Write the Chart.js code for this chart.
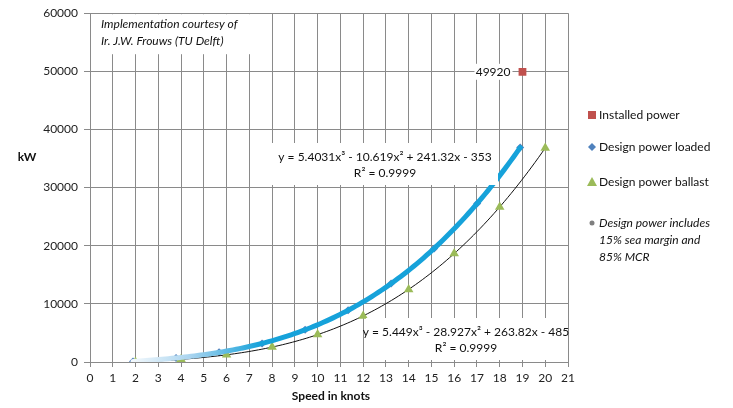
<!DOCTYPE html>
<html>
<head>
<meta charset="utf-8">
<script src="https://cdn.jsdelivr.net/npm/chart.js@4/dist/chart.umd.min.js"></script>
<style>
  html, body { margin: 0; padding: 0; background: #fff; }
  #wrap { position: relative; width: 733px; height: 408px; }
</style>
</head>
<body>
<div id="wrap"><canvas id="c" width="733" height="408"></canvas></div>
<script>
// Speed (knots) and design power (kW) for the loaded condition
const loadedSpeed = [1.89, 3.78, 5.67, 7.56, 9.45, 11.34, 13.23, 15.12, 17.01, 18.9];
const loadedPower = [100, 700, 1660, 3200, 5540, 8900, 13490, 19540, 27270, 36890];

// Speed (knots) and design power (kW) for the ballast condition
const ballastSpeed = [2, 4, 6, 8, 10, 12, 14, 16, 18, 20];
const ballastPower = [0, 460, 1230, 2560, 4710, 7930, 12490, 18650, 26670, 36810];

// Installed engine power
const installedSpeed = [19];
const installedPower = [49920];

// Cubic trendline coefficients [a3, a2, a1, a0] as shown in the equation labels
const loadedFit = [5.4031, -10.619, 241.32, -353];
const ballastFit = [5.449, -28.927, 263.82, -485];

const xTicks = [0,1,2,3,4,5,6,7,8,9,10,11,12,13,14,15,16,17,18,19,20,21];
const yTicks = [0, 10000, 20000, 30000, 40000, 50000, 60000];

const FONT = 'Lato, "Open Sans", sans-serif';
const BLUE_LINE = '#16a2da';

function cubic(c, x) { return ((c[0] * x + c[1]) * x + c[2]) * x + c[3]; }
function trend(c, from, to, n) {
  const pts = [];
  for (let i = 0; i <= n; i++) {
    const x = from + (to - from) * i / n;
    pts.push({ x, y: cubic(c, x) });
  }
  return pts;
}
const zip = (xs, ys) => xs.map((x, i) => ({ x, y: ys[i] }));

// Annotations, legend and axis titles drawn on the canvas
const decor = {
  id: 'decor',
  afterDatasetsDraw(chart) {
    const { ctx, scales: { x, y } } = chart;
    ctx.save();

    // credit box in the top-left corner
    ctx.fillStyle = '#fff';
    ctx.fillRect(x.left + 1, y.top + 1, 165, 40);
    ctx.fillStyle = '#111';
    ctx.font = 'italic 12px ' + FONT;
    ctx.textBaseline = 'middle';
    ctx.textAlign = 'left';
    ctx.fillText('Implementation courtesy of', 101, 24);
    ctx.fillText('Ir. J.W. Frouws (TU Delft)', 101, 41);

    // equation boxes
    function eqBox(cx, cy, line1, w) {
      ctx.fillStyle = '#fff';
      ctx.fillRect(cx - w / 2, cy - 20, w, 42);
      ctx.fillStyle = '#111';
      ctx.font = '12px ' + FONT;
      ctx.textAlign = 'center';
      ctx.fillText(line1, cx, cy - 6);
      ctx.fillText('R\u00b2 = 0.9999', cx, cy + 10);
    }
    eqBox(385, 163, 'y = 5.4031x\u00b3 - 10.619x\u00b2 + 241.32x - 353', 226);
    eqBox(466, 338, 'y = 5.449x\u00b3 - 28.927x\u00b2 + 263.82x - 485', 200);

    // value label of the installed power
    ctx.font = '12px ' + FONT;
    ctx.textAlign = 'right';
    ctx.fillStyle = '#fff';
    const lx = x.getPixelForValue(installedSpeed[0]) - 12;
    const ly = y.getPixelForValue(installedPower[0]);
    ctx.fillRect(lx - 36, ly - 8, 38, 16);
    ctx.fillStyle = '#111';
    ctx.fillText(String(installedPower[0]), lx, ly);

    // legend
    const mx = 592, tx = 599;
    ctx.textAlign = 'left';
    ctx.font = '12px ' + FONT;
    ctx.fillStyle = '#c0504d';
    ctx.fillRect(mx - 4, 111, 8, 8);
    ctx.fillStyle = '#111';
    ctx.fillText('Installed power', tx, 115);

    ctx.fillStyle = '#4f81bd';
    ctx.beginPath();
    ctx.moveTo(mx, 143); ctx.lineTo(mx + 4, 147); ctx.lineTo(mx, 151); ctx.lineTo(mx - 4, 147);
    ctx.closePath(); ctx.fill();
    ctx.fillStyle = '#111';
    ctx.fillText('Design power loaded', tx, 147);

    ctx.fillStyle = '#9bbb59';
    ctx.beginPath();
    ctx.moveTo(mx, 177); ctx.lineTo(mx + 5, 186); ctx.lineTo(mx - 5, 186);
    ctx.closePath(); ctx.fill();
    ctx.fillStyle = '#111';
    ctx.fillText('Design power ballast', tx, 182);

    ctx.fillStyle = '#7f7f7f';
    ctx.beginPath(); ctx.arc(mx, 223, 2.5, 0, Math.PI * 2); ctx.fill();
    ctx.fillStyle = '#111';
    ctx.font = 'italic 12px ' + FONT;
    ctx.fillText('Design power includes', tx, 223);
    ctx.fillText('15% sea margin and', tx, 240);
    ctx.fillText('85% MCR', tx, 257);

    // axis titles
    ctx.font = 'bold 12px ' + FONT;
    ctx.fillStyle = '#111';
    ctx.textAlign = 'center';
    ctx.fillText('kW', 27, 157);
    ctx.fillText('Speed in knots', 331, 396);
    ctx.restore();
  }
};

const fadeBlue = (context) => {
  const chart = context.chart;
  if (!chart.chartArea) return BLUE_LINE;
  const xs = chart.scales.x;
  const g = chart.ctx.createLinearGradient(xs.getPixelForValue(1.9), 0, xs.getPixelForValue(7.5), 0);
  g.addColorStop(0, '#f2f8fc');
  g.addColorStop(0.45, '#a9d4ef');
  g.addColorStop(1, BLUE_LINE);
  return g;
};

new Chart(document.getElementById('c'), {
  type: 'scatter',
  data: {
    datasets: [
      {
        label: 'Design power loaded',
        data: zip(loadedSpeed, loadedPower),
        pointStyle: 'rectRot', pointRadius: 4,
        backgroundColor: '#4f81bd', borderColor: '#4f81bd', borderWidth: 0,
        order: 5
      },
      {
        label: 'Design power ballast',
        data: zip(ballastSpeed, ballastPower),
        pointStyle: 'triangle', pointRadius: 5.5,
        backgroundColor: '#9bbb59', borderColor: '#9bbb59', borderWidth: 0,
        order: 3
      },
      {
        label: 'Loaded trend',
        data: trend(loadedFit, loadedSpeed[0], loadedSpeed[loadedSpeed.length - 1], 120),
        showLine: true, pointRadius: 0, borderWidth: 5,
        borderColor: fadeBlue, borderCapStyle: 'round',
        order: 2
      },
      {
        label: 'Ballast trend',
        data: trend(ballastFit, ballastSpeed[0], ballastSpeed[ballastSpeed.length - 1], 120),
        showLine: true, pointRadius: 0, borderWidth: 1,
        borderColor: '#111',
        order: 4
      },
      {
        label: 'Installed power',
        data: zip(installedSpeed, installedPower),
        pointStyle: 'rect', pointRadius: 5.5,
        backgroundColor: '#c0504d', borderColor: '#c0504d', borderWidth: 0,
        order: 1
      }
    ]
  },
  options: {
    responsive: false,
    animation: false,
    layout: { padding: { top: 4, right: 165, left: 0, bottom: 0 } },
    plugins: { legend: { display: false }, tooltip: { enabled: false } },
    scales: {
      x: {
        type: 'linear', min: 0, max: 21,
        afterBuildTicks: (s) => { s.ticks = xTicks.map(v => ({ value: v })); },
        afterFit: (s) => { s.height = 46; },
        ticks: { color: '#222', font: { family: FONT, size: 12 }, padding: 4, maxRotation: 0,
                 callback: (v) => String(v) },
        grid: { color: '#8a8a8a', lineWidth: 1, tickLength: 5 },
        border: { color: '#8a8a8a' }
      },
      y: {
        type: 'linear', min: 0, max: 60000,
        afterBuildTicks: (s) => { s.ticks = yTicks.map(v => ({ value: v })); },
        afterFit: (s) => { s.width = 90; },
        ticks: { color: '#222', font: { family: FONT, size: 12 }, padding: 6,
                 callback: (v) => String(v) },
        grid: { color: '#8a8a8a', lineWidth: 1, tickLength: 6 },
        border: { color: '#8a8a8a' }
      }
    }
  },
  plugins: [decor]
});
</script>
</body>
</html>
